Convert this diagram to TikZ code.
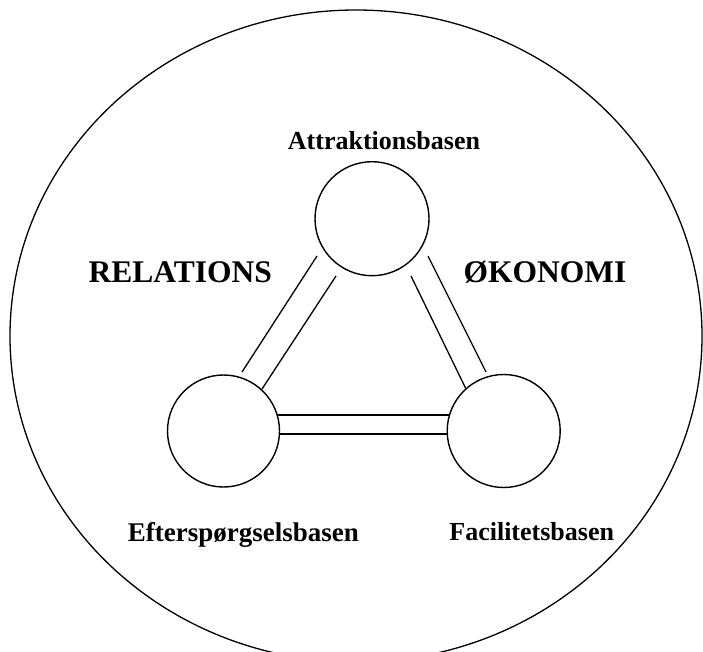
\documentclass[tikz,border=0pt]{standalone}
\usepackage{fontspec}
\setmainfont{Liberation Serif}
\tikzset{
  base/.style={circle,draw,line width=1.4pt,inner sep=0pt,minimum size=#1},
  link/.style={line width=1.3pt},
  lbl/.style={font=\bfseries\fontsize{26}{28}\selectfont,anchor=base,inner sep=0pt},
  biglbl/.style={font=\bfseries\fontsize{31.5}{34}\selectfont,anchor=base,inner sep=0pt}
}
\begin{document}
\begin{tikzpicture}[x=1pt,y=-1pt]
\useasboundingbox (0,0) rectangle (703,651);
\clip (0,0) rectangle (703,651);
\draw[line width=1.3pt] (356,336) ellipse [x radius=346, y radius=326];
% bases
\node[base=114pt] (A) at (372,218.7) {};
\node[base=112pt] (E) at (223.5,431) {};
\node[base=113pt] (F) at (503.7,431) {};
% labels
\node[lbl] (tA) at (384,149.3) {Attraktionsbasen};
\node[lbl,font=\bfseries\fontsize{27}{29}\selectfont] (tE) at (243.3,541.5) {Efterspørgselsbasen};
\node[lbl] (tF) at (531.7,540.5) {Facilitetsbasen};
\node[biglbl] (tR) at (180.3,282.7) {RELATIONS};
\node[biglbl] (tO) at (545,282.7) {ØKONOMI};
% connector end points
\coordinate (lo1) at (317,256); \coordinate (lo2) at (242,372);
\coordinate (li1) at (336,276); \coordinate (li2) at (262,389);
\coordinate (ro1) at (428,256); \coordinate (ro2) at (486,372);
\coordinate (ri1) at (411,276); \coordinate (ri2) at (466,389);
\coordinate (hu1) at (277.5,415); \coordinate (hu2) at (450,415);
\coordinate (hl1) at (279.4,434); \coordinate (hl2) at (447.3,434);
% connectors
\draw[link] (lo1) -- (lo2);
\draw[link] (li1) -- (li2);
\draw[link] (ro1) -- (ro2);
\draw[link] (ri1) -- (ri2);
\draw[link] (hu1) -- (hu2);
\draw[link] (hl1) -- (hl2);
\end{tikzpicture}
\end{document}
